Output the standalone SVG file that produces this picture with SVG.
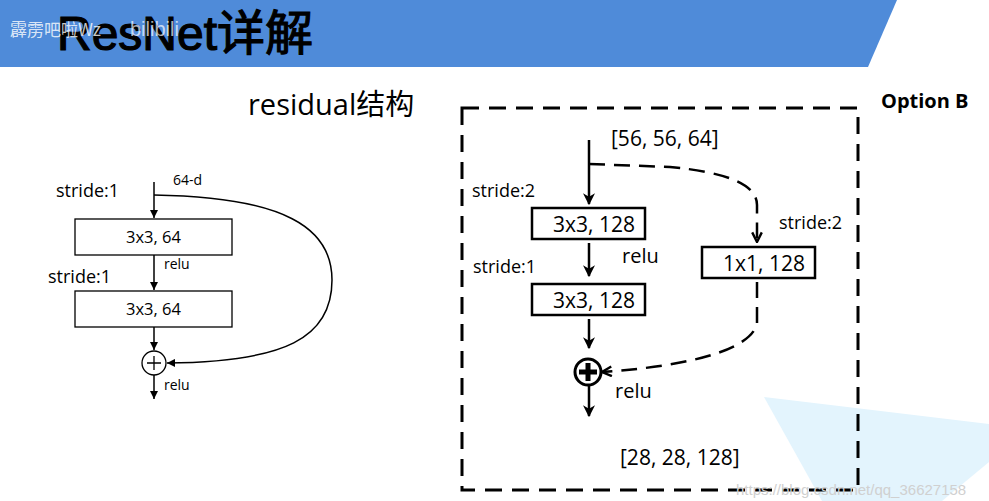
<svg xmlns="http://www.w3.org/2000/svg" width="989" height="501" viewBox="0 0 989 501">
<style>
.t{font-family:"Open Sans","Liberation Sans","Noto Sans CJK SC",sans-serif;fill:#000}
.box{fill:#fff;stroke:#000}
.ln{fill:none;stroke:#000}
</style>
<defs>
<marker id="ah" viewBox="0 0 10 10" refX="10" refY="5" markerWidth="8" markerHeight="8" markerUnits="userSpaceOnUse" orient="auto"><path d="M0,0 L10,5 L0,10 z" fill="#000"/></marker>
<marker id="ahb" viewBox="0 0 10 10" refX="9" refY="5" markerWidth="12" markerHeight="12" markerUnits="userSpaceOnUse" orient="auto"><path d="M0,0 L10,5 L0,10 L3,5 z" fill="#000"/></marker>
<marker id="ahv" viewBox="0 0 10 10" refX="9" refY="5" markerWidth="12" markerHeight="12" markerUnits="userSpaceOnUse" orient="auto"><path d="M1,1 L9,5 L1,9" fill="none" stroke="#000" stroke-width="2"/></marker>
</defs>
<rect width="989" height="501" fill="#fff"/>
<polygon points="0,0 897,0 868,67 0,67" fill="#4f8bd9"/>
<polygon points="764,397 989,424 989,462 942,501 822,501" fill="#e3f4fd"/>
<text x="57" y="50" style="font-family:'Liberation Sans','Noto Sans CJK SC',sans-serif" font-size="48" fill="#000" stroke="#000" stroke-width="1.2">ResNet详解</text>
<text x="10" y="36" style="font-family:'Noto Sans CJK SC',sans-serif" font-size="17" fill="#fff" fill-opacity="0.8">霹雳吧啦Wz</text>
<text x="130" y="36" style="font-family:'Liberation Sans',sans-serif" font-size="20" fill="#fff" fill-opacity="0.7">bilibili</text>

<g id="title-residual"><text class="t" x="248" y="115" font-size="29" style="font-family:'Open Sans','Noto Sans CJK SC',sans-serif">residual结构</text></g>
<g id="option-b"><text class="t" x="881" y="108" font-size="20" font-weight="bold">Option B</text></g>

<!-- left diagram -->
<g id="left-labels">
<text class="t" x="173" y="185" font-size="14">64-d</text>
<text class="t" x="56" y="197" font-size="18">stride:1</text>
<text class="t" x="48" y="283" font-size="18">stride:1</text>
<text class="t" x="164" y="269" font-size="14">relu</text>
<text class="t" x="164" y="390" font-size="14">relu</text>
</g>
<g id="l-box1"><rect class="box" x="75" y="219" width="157" height="36" stroke-width="1.3"/><text class="t" x="153.5" y="243" font-size="16.5" text-anchor="middle">3x3, 64</text></g>
<g id="l-box2"><rect class="box" x="75" y="291" width="157" height="36" stroke-width="1.3"/><text class="t" x="153.5" y="315" font-size="16.5" text-anchor="middle">3x3, 64</text></g>
<g id="l-add"><circle cx="154" cy="363" r="12" fill="#fff" stroke="#000" stroke-width="1.3"/><path d="M147,363 H161 M154,356 V370" stroke="#000" stroke-width="1.3"/></g>
<g id="left-connectors" class="ln" stroke-width="1.5">
<path class="ln" d="M154,182 V218" marker-end="url(#ah)"/>
<path class="ln" d="M154,255 V290" marker-end="url(#ah)"/>
<path class="ln" d="M154,327 V350" marker-end="url(#ah)"/>
<path class="ln" d="M154,375 V399" marker-end="url(#ah)"/>
<path class="ln" d="M154,195 C 285,197 332,228 332,280 C 332,338 285,362 167,363" marker-end="url(#ah)"/>
</g>

<!-- right diagram -->
<rect x="462" y="108" width="396" height="382" fill="none" stroke="#000" stroke-width="3" stroke-dasharray="17,10"/>
<g id="right-labels">
<text class="t" x="611" y="146" font-size="21">[56, 56, 64]</text>
<text class="t" x="472" y="197" font-size="18">stride:2</text>
<text class="t" x="473" y="273" font-size="18">stride:1</text>
<text class="t" x="779" y="229" font-size="18">stride:2</text>
<text class="t" x="622" y="263" font-size="20">relu</text>
<text class="t" x="615" y="398" font-size="20">relu</text>
<text class="t" x="620" y="465" font-size="21">[28, 28, 128]</text>
</g>
<g id="r-box1"><rect class="box" x="532" y="208" width="113" height="31" stroke-width="2.5"/><text class="t" x="553" y="232" font-size="21">3x3, 128</text></g>
<g id="r-box2"><rect class="box" x="532" y="284" width="113" height="31" stroke-width="2.5"/><text class="t" x="553" y="308" font-size="21">3x3, 128</text></g>
<g id="r-box3"><rect class="box" x="702" y="247" width="113" height="31" stroke-width="2.5"/><text class="t" x="723" y="271" font-size="21">1x1, 128</text></g>
<g id="r-add"><circle cx="588" cy="372" r="13" fill="#fff" stroke="#000" stroke-width="3"/><path d="M579,372 H597 M588,363 V381" stroke="#000" stroke-width="5"/></g>
<g id="right-connectors">
<path class="ln" stroke-width="2.5" d="M589,140 V204" marker-end="url(#ahb)"/>
<path class="ln" stroke-width="2.5" d="M589,243 V276" marker-end="url(#ahb)"/>
<path class="ln" stroke-width="2.5" d="M589,319 V348" marker-end="url(#ahb)"/>
<path class="ln" stroke-width="2.5" d="M589,386 V416" marker-end="url(#ahb)"/>
<path class="ln" stroke-width="2.5" stroke-dasharray="16,9" d="M589,164 L670,167 C725,172 757,184 757,205 L757,242" marker-end="url(#ahv)"/>
<path class="ln" stroke-width="2.5" stroke-dasharray="16,9" d="M757,282 L757,324 C750,350 690,366 602,372" marker-end="url(#ahv)"/>
</g>
<text x="736" y="495" style="font-family:'Liberation Sans',sans-serif" font-size="15" fill="#d0d0d0">https://blog.csdn.net/qq_36627158</text>
</svg>
